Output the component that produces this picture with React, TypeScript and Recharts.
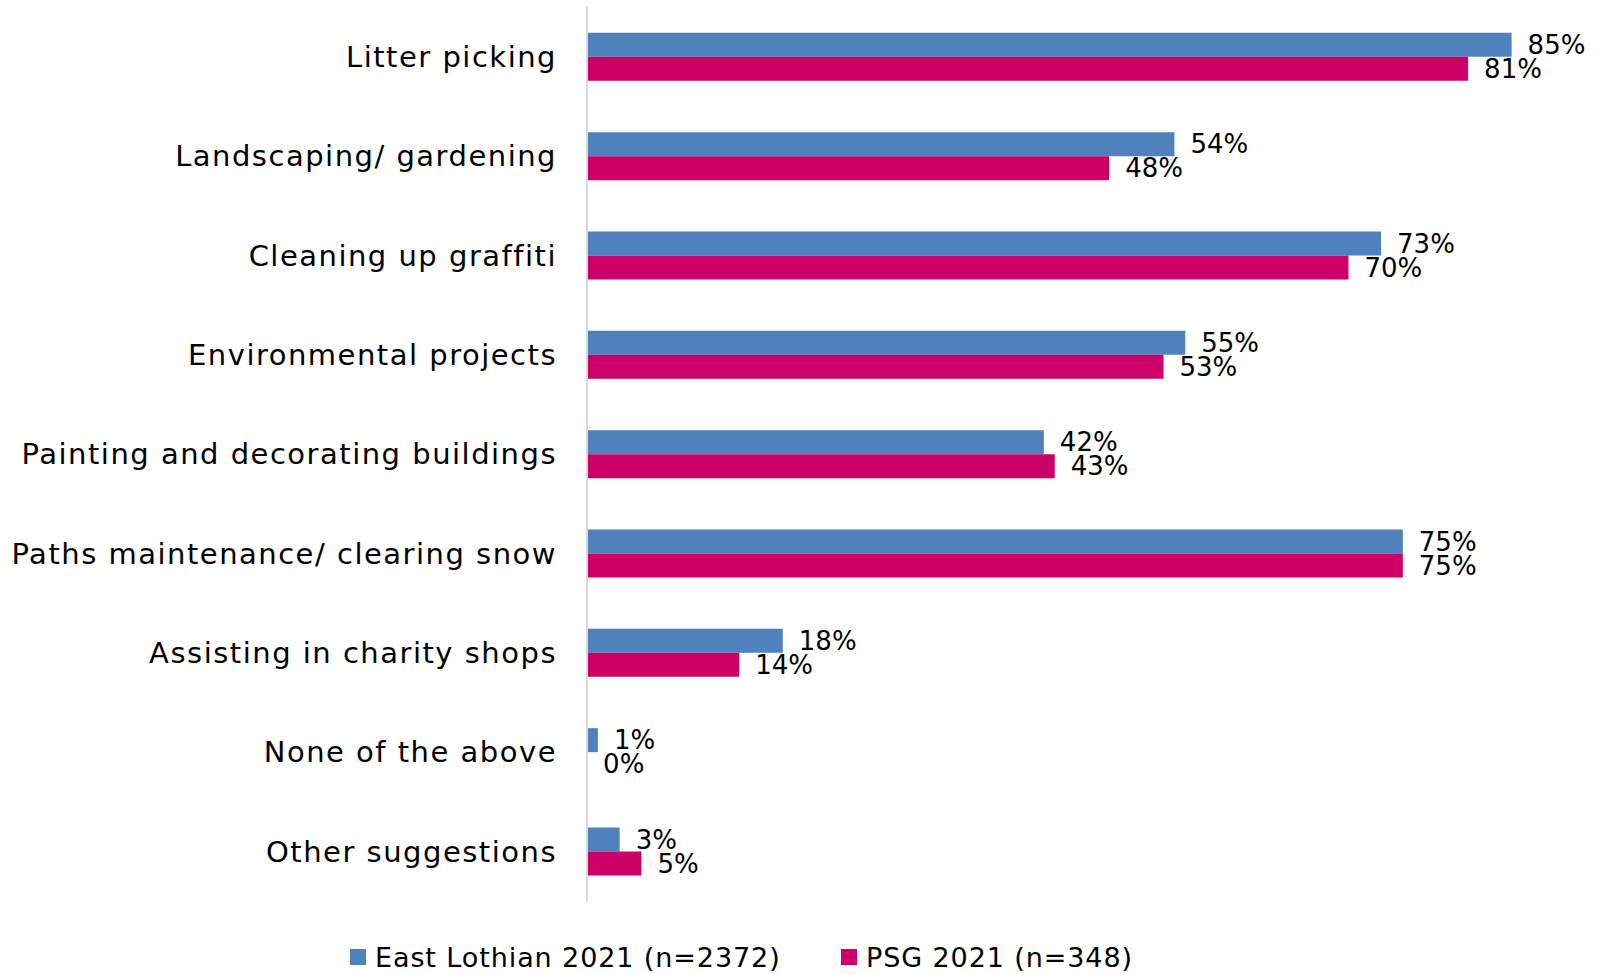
import { Bar, BarChart, LabelList, Legend, XAxis, YAxis } from "recharts";

const activities = [
  "Litter picking",
  "Landscaping/ gardening",
  "Cleaning up graffiti",
  "Environmental projects",
  "Painting and decorating buildings",
  "Paths maintenance/ clearing snow",
  "Assisting in charity shops",
  "None of the above",
  "Other suggestions",
];
const eastLothian = [85, 54, 73, 55, 42, 75, 18, 1, 3];
const psg = [81, 48, 70, 53, 43, 75, 14, 0, 5];

const SERIES = [
  { key: "eastLothian", name: "East Lothian 2021 (n=2372)", color: "#4F81BD" },
  { key: "psg", name: "PSG 2021 (n=348)", color: "#CC0066" },
];

const data = activities.map((activity, i) => ({
  activity,
  eastLothian: eastLothian[i],
  psg: psg[i],
}));

const FONT = "'DejaVu Sans', sans-serif";

function ChartLegend() {
  return (
    <div style={{ height: 73, position: "relative", fontFamily: FONT, fontSize: 27, letterSpacing: 0.9, color: "#000" }}>
      {SERIES.map((s, i) => (
        <div
          key={s.key}
          style={{ position: "absolute", left: i === 0 ? 350 : 841, top: 38, height: 36, display: "flex", alignItems: "center", whiteSpace: "nowrap" }}
        >
          <span style={{ display: "block", width: 16, height: 16, background: s.color, marginRight: 9 }} />
          <span>{s.name}</span>
        </div>
      ))}
    </div>
  );
}

export default function App() {
  return (
    <div style={{ position: "absolute", left: 0, top: 0, background: "#fff" }}>
      <BarChart
        width={1605}
        height={974}
        data={data}
        layout="vertical"
        margin={{ top: 7, right: 39, bottom: 0, left: 0 }}
        barCategoryGap="26%"
        barGap={0}
      >
        <XAxis type="number" domain={[0, 90]} hide />
        <YAxis
          type="category"
          dataKey="activity"
          width={587}
          tickLine={false}
          tickSize={0}
          tickMargin={30}
          axisLine={{ stroke: "#D9D9D9", strokeWidth: 2 }}
          tick={{ fill: "#000", fontSize: 29, fontFamily: FONT, letterSpacing: 1.5 }}
          interval={0}
        />
        <Legend
          verticalAlign="bottom"
          content={() => <ChartLegend />}
          wrapperStyle={{ left: 0, width: 1605 }}
        />
        {SERIES.map((s) => (
          <Bar
            key={s.key}
            dataKey={s.key}
            name={s.name}
            fill={s.color}
            minPointSize={0.1}
            isAnimationActive={false}
          >
            <LabelList
              dataKey={s.key}
              position="right"
              offset={16}
              formatter={(v: number) => `${v}%`}
              style={{ fill: "#000", fontSize: 26, fontFamily: FONT }}
            />
          </Bar>
        ))}
      </BarChart>
    </div>
  );
}
